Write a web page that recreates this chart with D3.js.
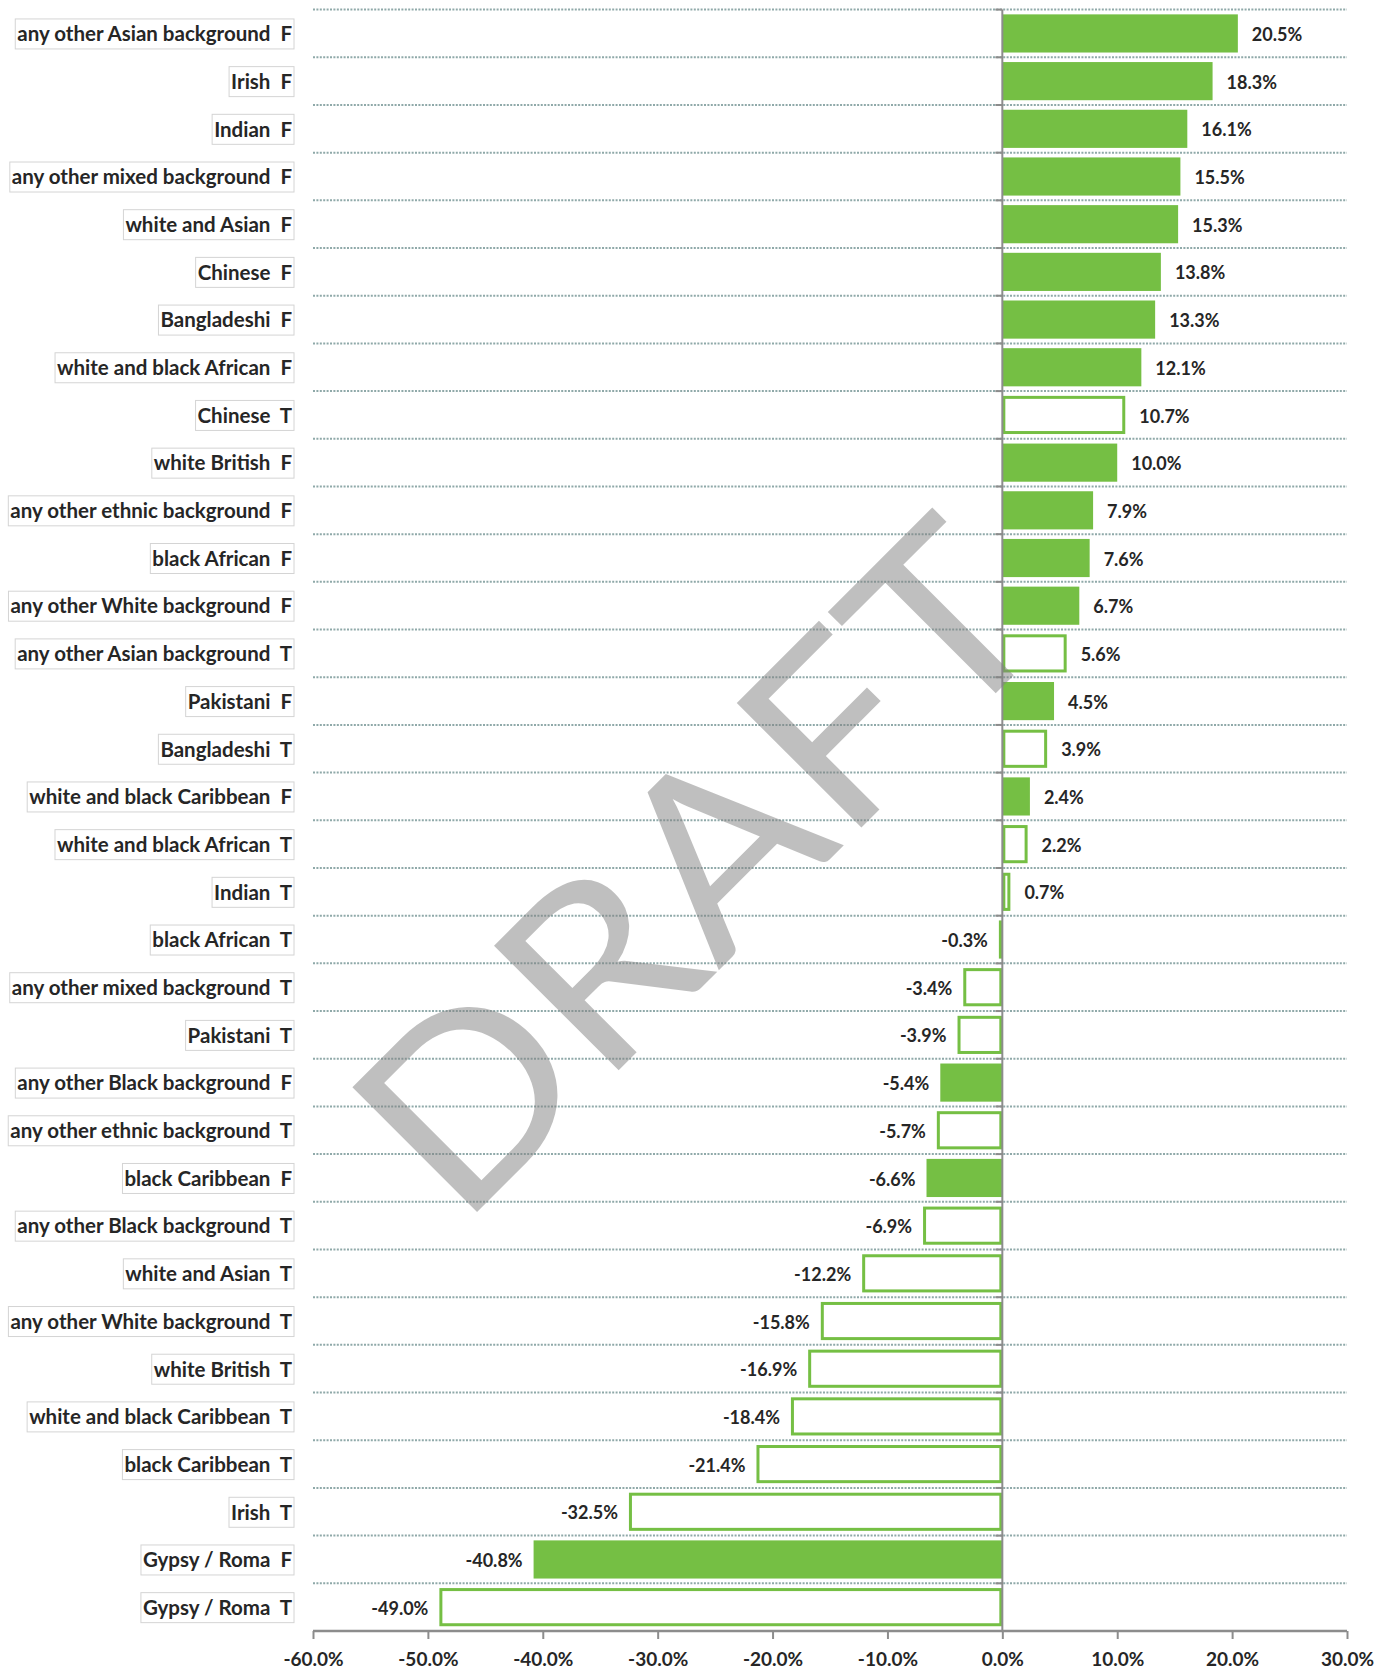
<!DOCTYPE html>
<html>
<head>
<meta charset="utf-8">
<script src="https://cdn.jsdelivr.net/npm/d3@7/dist/d3.min.js"></script>
<style>
  html, body { margin: 0; padding: 0; background: #fff; }
  svg { display: block; }
</style>
</head>
<body>
<svg id="chart" width="1392" height="1670"></svg>
<script>
// Ethnic group, F/T flag and percentage change, top to bottom
const groups = [
  "any other Asian background", "Irish", "Indian", "any other mixed background",
  "white and Asian", "Chinese", "Bangladeshi", "white and black African",
  "Chinese", "white British", "any other ethnic background", "black African",
  "any other White background", "any other Asian background", "Pakistani", "Bangladeshi",
  "white and black Caribbean", "white and black African", "Indian", "black African",
  "any other mixed background", "Pakistani", "any other Black background", "any other ethnic background",
  "black Caribbean", "any other Black background", "white and Asian", "any other White background",
  "white British", "white and black Caribbean", "black Caribbean", "Irish",
  "Gypsy / Roma", "Gypsy / Roma"
];
const types = [
  "F", "F", "F", "F", "F", "F", "F", "F",
  "T", "F", "F", "F", "F", "T", "F", "T",
  "F", "T", "T", "T", "T", "T", "F", "T",
  "F", "T", "T", "T", "T", "T", "T", "T",
  "F", "T"
];
const values = [
  20.5, 18.3, 16.1, 15.5, 15.3, 13.8, 13.3, 12.1,
  10.7, 10.0, 7.9, 7.6, 6.7, 5.6, 4.5, 3.9,
  2.4, 2.2, 0.7, -0.3, -3.4, -3.9, -5.4, -5.7,
  -6.6, -6.9, -12.2, -15.8, -16.9, -18.4, -21.4, -32.5,
  -40.8, -49.0
];
const tickValues = [-60, -50, -40, -30, -20, -10, 0, 10, 20, 30];

const rows = groups.map((g, i) => ({
  key: g + "  " + types[i],
  type: types[i],
  value: values[i]
}));

const green = "#75bf44";
const textColor = "#262626";
const font = "Lato, 'Open Sans', sans-serif";

const svg = d3.select("#chart");
const plotLeft = 313, plotRight = 1347, plotTop = 9.6, plotBottom = 1631;

const x = d3.scaleLinear().domain([-60, 30]).range([plotLeft, plotRight]);
const y = d3.scaleBand()
  .domain(rows.map(d => d.key))
  .range([plotTop, plotBottom])
  .paddingInner(0.2)
  .paddingOuter(0.1);
const step = y.step();
const rowTop = k => y(k) - step * 0.1;

// dotted row separators
svg.append("g")
  .selectAll("line")
  .data(rows)
  .join("line")
  .attr("x1", plotLeft).attr("x2", plotRight)
  .attr("y1", d => rowTop(d.key)).attr("y2", d => rowTop(d.key))
  .attr("stroke", "#8fa9a9")
  .attr("stroke-width", 2)
  .attr("stroke-dasharray", "2,1.4");

// bars: F filled, T outlined
svg.append("g")
  .selectAll("rect")
  .data(rows)
  .join("rect")
  .each(function (d) {
    const x0 = x(Math.min(0, d.value)), x1 = x(Math.max(0, d.value));
    const sel = d3.select(this);
    if (d.type === "F") {
      sel.attr("x", x0).attr("width", Math.max(0, x1 - x0))
        .attr("y", y(d.key)).attr("height", y.bandwidth())
        .attr("fill", green);
    } else {
      sel.attr("x", x0 + 1.5).attr("width", Math.max(0.5, x1 - x0 - 3))
        .attr("y", y(d.key) + 1.5).attr("height", y.bandwidth() - 3)
        .attr("fill", "#fff")
        .attr("stroke", green).attr("stroke-width", 3);
    }
  });

// value labels
svg.append("g")
  .selectAll("text")
  .data(rows)
  .join("text")
  .attr("x", d => d.value >= 0 ? x(d.value) + 14 : x(d.value) - 11)
  .attr("y", d => y(d.key) + y.bandwidth() / 2)
  .attr("dy", "0.42em")
  .attr("text-anchor", d => d.value >= 0 ? "start" : "end")
  .attr("font-family", font)
  .attr("font-weight", 700)
  .attr("font-size", 18)
  .attr("fill", textColor)
  .text(d => d.value.toFixed(1) + "%");

// zero axis with category ticks
const zero = x(0);
svg.append("line")
  .attr("x1", zero).attr("x2", zero)
  .attr("y1", plotTop).attr("y2", plotBottom)
  .attr("stroke", "#8c8c8c").attr("stroke-width", 2);
svg.append("g")
  .selectAll("line")
  .data(rows)
  .join("line")
  .attr("x1", zero - 7).attr("x2", zero)
  .attr("y1", d => rowTop(d.key)).attr("y2", d => rowTop(d.key))
  .attr("stroke", "#8c8c8c").attr("stroke-width", 2);

// category labels in thin boxes
const labelG = svg.append("g");
rows.forEach(d => {
  const cy = y(d.key) + y.bandwidth() / 2;
  const t = labelG.append("text")
    .attr("x", 292)
    .attr("y", cy)
    .attr("dy", "0.38em")
    .attr("text-anchor", "end")
    .attr("font-family", font)
    .attr("font-weight", 700)
    .attr("font-size", 20.5)
    .attr("fill", textColor)
    .style("white-space", "pre")
    .text(d.key);
  const bb = t.node().getBBox();
  labelG.insert("rect", "text")
    .attr("x", bb.x - 2)
    .attr("y", cy - 14.5)
    .attr("width", bb.width + 4)
    .attr("height", 30)
    .attr("fill", "#fff")
    .attr("stroke", "#d4d4d4")
    .attr("stroke-width", 1);
});

// value axis
const axis = svg.append("g")
  .attr("transform", `translate(0,${plotBottom})`)
  .call(d3.axisBottom(x)
    .tickValues(tickValues)
    .tickSize(8)
    .tickPadding(14)
    .tickFormat(d => d.toFixed(1) + "%"));
axis.select(".domain")
  .attr("d", `M${plotLeft},0H${plotRight}`)
  .attr("stroke", "#8c8c8c").attr("stroke-width", 2.5);
axis.selectAll(".tick line").attr("stroke", "#8c8c8c").attr("stroke-width", 2);
axis.selectAll(".tick text")
  .attr("font-family", font)
  .attr("font-weight", 700)
  .attr("font-size", 19)
  .attr("fill", textColor);

// watermark
svg.append("text")
  .attr("transform", "translate(460,1229) rotate(-45)")
  .attr("font-family", font)
  .attr("font-size", 246)
  .attr("fill", "#808080")
  .attr("fill-opacity", 0.5)
  .attr("textLength", 848)
  .attr("lengthAdjust", "spacingAndGlyphs")
  .text("DRAFT");
</script>
</body>
</html>
